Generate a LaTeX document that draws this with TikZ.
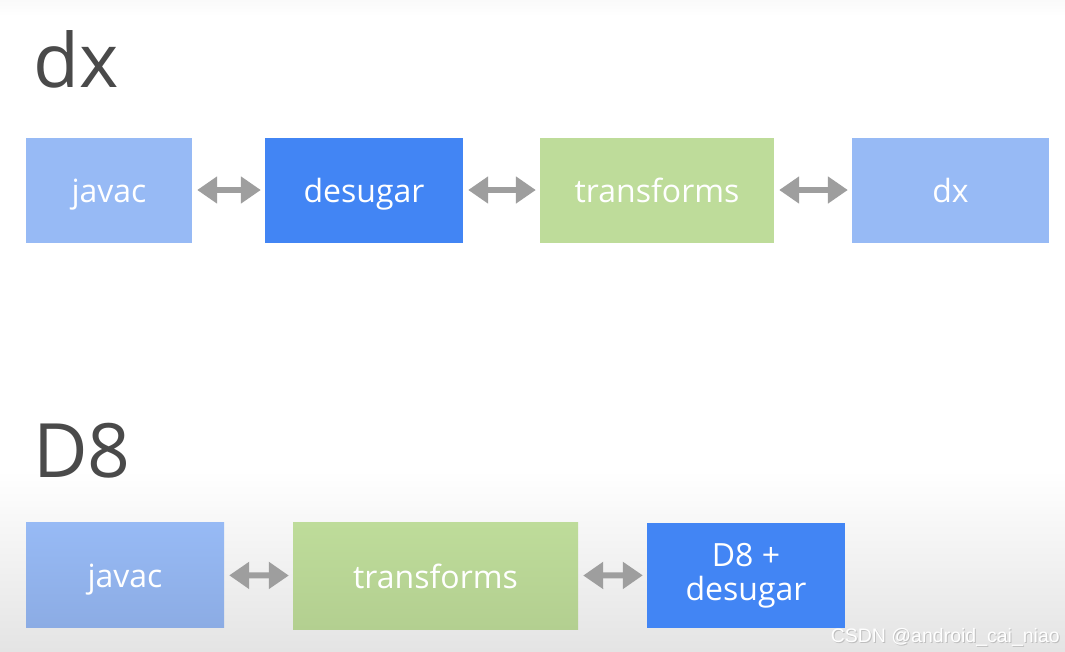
\documentclass[tikz,border=0pt]{standalone}
\usepackage{fontspec}
\setmainfont{Open Sans}
\newfontfamily\markfont{Liberation Sans}
\usepackage{tikz}
\usetikzlibrary{arrows.meta,positioning}
\definecolor{lightblue}{HTML}{97BAF5}
\definecolor{lightblueb}{HTML}{8CACE4}
\definecolor{darkblue}{HTML}{4285F4}
\definecolor{leafgreen}{HTML}{BEDC9A}
\definecolor{leafgreenb}{HTML}{B3CF90}
\definecolor{linkgray}{HTML}{9E9E9E}
\definecolor{titlegray}{HTML}{4A4A4A}
\definecolor{bggray}{HTML}{E4E4E4}

\begin{document}
\begin{tikzpicture}[x=1pt,y=-1pt,
  stage/.style={rectangle,minimum height=105pt,inner sep=0pt,text=white,
    text height=24pt,text depth=0pt,
    font=\fontsize{32}{34}\selectfont,align=center},
  light/.style={stage,fill=lightblue},
  dark/.style={stage,fill=darkblue},
  green/.style={stage,fill=leafgreen},
  title/.style={anchor=base west,inner sep=0pt,text=titlegray,
    font=\fontsize{75}{75}\selectfont},
  link/.style={draw=linkgray,line width=6pt,shorten <=5pt,shorten >=4pt,
    {Triangle[width=26pt,length=20pt]}-{Triangle[width=26pt,length=20pt]}}]
  % background
  \useasboundingbox (0,0) rectangle (1065,651);
  \fill[white] (0,0) rectangle (1065,651);
  \shade[top color=black!2,bottom color=white] (0,0) rectangle (1065,16);
  \shade[top color=white,bottom color=bggray] (0,470) rectangle (1065,651);
  % dx
  \node[title] (dxtitle) at (33,87) {dx};
  \node[light,minimum width=166pt] (javacA) at (109,190) {javac};
  \node[dark,minimum width=198pt] (desugarA) at (364,190) {desugar};
  \node[green,minimum width=234pt] (transformsA) at (657,190) {transforms};
  \node[light,minimum width=197pt] (dxA) at (950.5,190) {dx};
  \draw[link] (javacA) -- (desugarA);
  \draw[link] (desugarA) -- (transformsA);
  \draw[link] (transformsA) -- (dxA);
  % D8
  \node[title] (dtitle) at (33,477) {D8};
  \node[stage,top color=lightblue,bottom color=lightblueb,minimum width=198pt] (javacB) at (125,575) {javac};
  \node[stage,top color=leafgreen,bottom color=leafgreenb,minimum width=285pt,minimum height=107pt] (transformsB) at (435.5,576) {transforms};
  \node[dark,minimum width=198pt,text height=50pt] (d8B) at (746,575) {D8 +\\desugar};
  \draw[link] (javacB) -- (transformsB);
  \draw[link] (transformsB) -- (d8B);
  % watermark
  \node[anchor=base east,inner sep=0pt,text=black!25,font=\markfont\fontsize{19.5}{19.5}\selectfont] (markshadow) at (1061,643) {CSDN @android\_cai\_niao};
  \node[anchor=base east,inner sep=0pt,text=white,font=\markfont\fontsize{19.5}{19.5}\selectfont] (mark) at (1060,642) {CSDN @android\_cai\_niao};
\end{tikzpicture}
\end{document}
